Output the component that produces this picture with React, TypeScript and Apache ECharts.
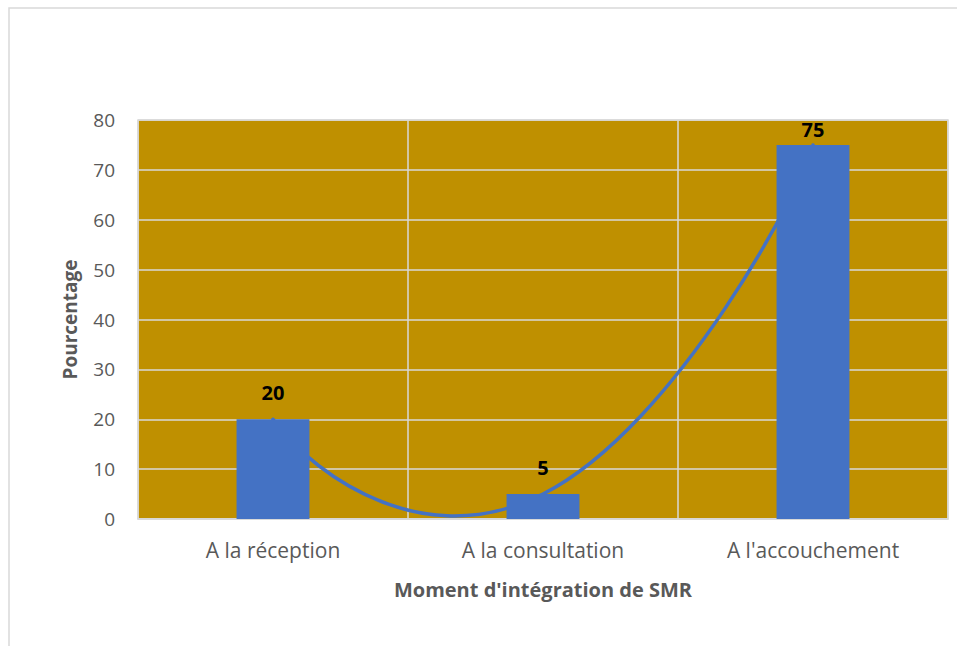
import { useEffect, useRef } from "react";
import * as echarts from "echarts";

const categories = ["A la réception", "A la consultation", "A l'accouchement"];
const values = [20, 5, 75];
const yMin = 0;
const yMax = 80;
const yInterval = 10;
const xTitle = "Moment d'intégration de SMR";
const yTitle = "Pourcentage";

const FONT = "'Open Sans', 'Noto Sans', sans-serif";
const BLUE = "#4472C4";
const GOLD = "#BF9000";
const GRIDC = "#D9D9D9";

function buildCurve(pts: number[][], k: number, endF: number): string {
  const n = pts.length;
  const tan = pts.map((p, i) =>
    i === 0 || i === n - 1
      ? null
      : [(pts[i + 1][0] - pts[i - 1][0]) * k, (pts[i + 1][1] - pts[i - 1][1]) * k]
  );
  let d = `M${pts[0][0]},${pts[0][1]}`;
  for (let i = 0; i < n - 1; i++) {
    const p0 = pts[i];
    const p1 = pts[i + 1];
    const cx = p1[0] - p0[0];
    const cy = p1[1] - p0[1];
    const L = Math.hypot(cx, cy) || 1;
    const ux = cx / L, uy = cy / L;
    const nx = -uy, ny = ux;
    const mirror = (v: number[]) => {
      const a = v[0] * ux + v[1] * uy;
      const b = v[0] * nx + v[1] * ny;
      return [(-a * ux + b * nx) * endF, (-a * uy + b * ny) * endF];
    };
    let c1: number[] | null = tan[i] ? [p0[0] + tan[i]![0], p0[1] + tan[i]![1]] : null;
    let c2: number[] | null = tan[i + 1] ? [p1[0] - tan[i + 1]![0], p1[1] - tan[i + 1]![1]] : null;
    if (!c1 && c2) {
      const m = mirror([c2[0] - p1[0], c2[1] - p1[1]]);
      c1 = [p0[0] + m[0], p0[1] + m[1]];
    }
    if (!c2 && c1) {
      const m = mirror([c1[0] - p0[0], c1[1] - p0[1]]);
      c2 = [p1[0] + m[0], p1[1] + m[1]];
    }
    if (!c1 || !c2) {
      c1 = p0;
      c2 = p1;
    }
    d += ` C${c1[0]},${c1[1]} ${c2[0]},${c2[1]} ${p1[0]},${p1[1]}`;
  }
  return d;
}

export default function App() {
  const ref = useRef<HTMLDivElement>(null);
  useEffect(() => {
    if (!ref.current) return;
    const chart = echarts.init(ref.current, null, { renderer: "svg" });
    chart.setOption({
      animation: false,
      backgroundColor: "#FFFFFF",
      textStyle: { fontFamily: FONT },
      graphic: [
        {
          type: "rect",
          shape: { x: 9, y: 8, width: 1000, height: 700 },
          style: { fill: "none", stroke: GRIDC, lineWidth: 1.5 },
          z: -10,
          silent: true,
        },
      ],
      grid: {
        left: 138,
        top: 120,
        right: 9,
        bottom: 127,
        show: true,
        backgroundColor: GOLD,
        borderColor: GRIDC,
        borderWidth: 1.5,
      },
      xAxis: {
        type: "category",
        data: categories,
        name: xTitle,
        nameLocation: "middle",
        nameGap: 60,
        nameTextStyle: { fontFamily: FONT, fontSize: 20, fontWeight: "bold", color: "#595959" },
        axisLine: { show: true, lineStyle: { color: GRIDC, width: 1.5 } },
        axisTick: { show: false },
        axisLabel: { fontFamily: FONT, fontSize: 21, color: "#595959", margin: 20 },
        splitLine: { show: true, lineStyle: { color: GRIDC, width: 1.5 } },
      },
      yAxis: {
        type: "value",
        min: yMin,
        max: yMax,
        interval: yInterval,
        name: yTitle,
        nameLocation: "middle",
        nameGap: 59,
        nameTextStyle: { fontFamily: FONT, fontSize: 19, fontWeight: "bold", color: "#595959" },
        axisLine: { show: false },
        axisTick: { show: false },
        axisLabel: { fontFamily: FONT, fontSize: 19, color: "#595959", margin: 23 },
        splitLine: { show: true, lineStyle: { color: GRIDC, width: 1.5 } },
      },
      series: [
        {
          type: "custom",
          coordinateSystem: "cartesian2d",
          z: 1,
          silent: true,
          data: [[0, values[0]]],
          renderItem: (params: any, api: any) => {
            if (params.dataIndex !== 0) return null;
            const pts = values.map((v, i) => api.coord([i, v]));
            return {
              type: "path",
              shape: { pathData: buildCurve(pts, 0.25, 0.25) },
              style: { stroke: BLUE, lineWidth: 3.5, fill: "none", lineCap: "round" },
            };
          },
        },
        {
          type: "bar",
          z: 3,
          barWidth: "27%",
          itemStyle: { color: BLUE },
          label: {
            show: true,
            position: "top",
            distance: 17,
            fontFamily: FONT,
            fontSize: 20,
            fontWeight: "bold",
            color: "#000000",
          },
          data: values.map((v, i) =>
            i === values.length - 1 ? { value: v, label: { distance: 5 } } : v
          ),
        },
      ],
    });
    return () => chart.dispose();
  }, []);
  return (
    <div
      ref={ref}
      style={{ position: "absolute", left: 0, top: 0, width: 957, height: 646 }}
    />
  );
}
